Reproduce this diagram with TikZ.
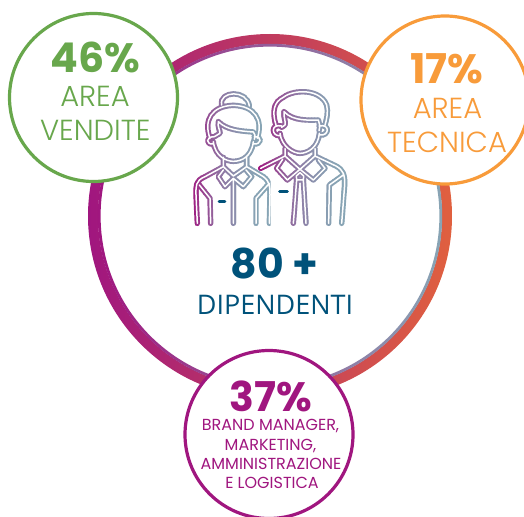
\documentclass[tikz,border=0pt]{standalone}
\usepackage{fontspec}
\setmainfont{Poppins}
\newfontfamily\poplight{Poppins Light}
\newfontfamily\opensans{Open Sans}
\definecolor{cgreen}{HTML}{68A74C}
\definecolor{corange}{HTML}{F89B3A}
\definecolor{cpurple}{HTML}{A0167F}
\definecolor{cnavy}{HTML}{00527A}
\definecolor{cgrey}{HTML}{88A5B5}
\definecolor{cred}{HTML}{E0603F}
\newcommand{\fsz}[1]{\fontsize{#1}{#1}\selectfont}
\newcommand{\womanlines}{%
  (155,105) .. controls (146,62) and (232,58) .. (238,108)
  (120,205) .. controls (100,150) and (125,108) .. (190,106) .. controls (255,108) and (280,150) .. (262,205)
  (145,155) .. controls (170,180) and (210,183) .. (250,186) .. controls (255,190) and (256,198) .. (253,208)
  (145,155) .. controls (142,170) and (150,180) .. (150,190) -- (133,200)
  (133,200) .. controls (105,200) and (108,225) .. (130,222)
  (253,200) .. controls (278,198) and (275,225) .. (250,222)
  (130,215) .. controls (135,260) and (170,274) .. (190,274) .. controls (215,274) and (245,260) .. (250,215)
  (160,262) -- (160,290) -- (190,318) -- (230,290) -- (230,262)
  (160,300) -- (145,320) -- (165,350) -- (190,325) -- (220,350) -- (245,320) -- (228,300)
  (160,290) -- (105,320) .. controls (75,332) and (78,350) .. (78,375) -- (82,460)
  (230,290) -- (280,320) .. controls (300,335) and (300,350) .. (300,375) -- (298,460)
  (88,345) -- (120,385) -- (122,460)
  (298,340) -- (258,385) -- (258,460)
  (190,325) -- (190,460)
}
\newcommand{\manlines}{%
  (318,165) .. controls (305,125) and (312,95) .. (340,82) .. controls (370,58) and (450,55) .. (470,105) .. controls (475,125) and (470,150) .. (465,165)
  (342,125) .. controls (370,155) and (420,150) .. (445,150) .. controls (450,160) and (450,170) .. (447,182)
  (342,125) .. controls (340,140) and (348,155) .. (345,165) -- (335,172)
  (335,168) .. controls (300,160) and (305,200) .. (330,197)
  (447,168) .. controls (482,160) and (478,200) .. (448,195)
  (330,190) .. controls (335,230) and (370,250) .. (390,250) .. controls (415,250) and (445,230) .. (448,190)
  (345,236) -- (345,258) -- (390,298) -- (435,258) -- (435,236)
  (338,268) -- (320,295) -- (352,330) -- (390,298) -- (430,330) -- (465,295) -- (445,270)
  (345,258) -- (272,295)
  (435,258) -- (498,288) .. controls (520,300) and (525,315) .. (524,345) -- (515,460)
  (520,315) -- (478,345) -- (476,460)
  (380,330) -- (379,318) -- (390,308) -- (401,318) -- (400,330) -- cycle
  (380,330) -- (370,460)
  (400,330) -- (408,460)
}
\tikzset{
  bubble/.style={circle,draw,fill=white,line width=3.2pt,inner sep=0pt,minimum size=168pt},
  pct/.style={anchor=base,inner sep=0pt,text depth=0pt,font=\bfseries\fsz{41}},
  lbl/.style={anchor=base,inner sep=0pt,font=\poplight\fsz{29}},
  small/.style={anchor=base,inner sep=0pt,text height=11pt,text depth=0pt,font=\fsz{16},text=cpurple},
  tagdash/.style={line width=2.8pt,line cap=round,cnavy},
  iconline/.style={line width=5.4pt,line cap=round,line join=round},
  iconcore/.style={white,line width=1.5pt,line cap=round,line join=round},
}
\begin{document}
\begin{tikzpicture}[x=1pt,y=-1pt]
  \useasboundingbox (0,0) rectangle (524,516);
  \clip (0,0) rectangle (524,516);
  % ring
  \path[left color=cpurple,right color=cred,even odd rule] (270,216) circle[radius=182pt] (270,216) circle[radius=172pt];
  \path[left color=cpurple,right color=cgrey,even odd rule] (270,216) circle[radius=172.2pt] (270,216) circle[radius=169.4pt];
  % bubbles
  \node[bubble,draw=cgreen] (green) at (93.5,97.5) {};
  \node[bubble,draw=corange] (orange) at (445,100) {};
  \node[bubble,draw=cpurple] (purple) at (269,434.5) {};
  % people: gradient stroke built from vertical slices
  \begin{scope}[shift={(170,70)},x=0.33333pt,y=-0.33333pt]
    \foreach \s in {0,...,29}{
      \pgfmathtruncatemacro{\p}{100*(1-\s/29)^2.2}
      \begin{scope}
        \clip (60+8*\s,40) rectangle (70+8*\s,480);
        \draw[iconline,color=cpurple!\p!cgrey] \womanlines;
      \end{scope}
    }
    \foreach \s in {0,...,31}{
      \pgfmathtruncatemacro{\p}{100*(1-\s/31)^2.2}
      \begin{scope}
        \clip (262+9*\s,40) rectangle (273+9*\s,480);
        \draw[iconline,color=cpurple!\p!cgrey] \manlines;
      \end{scope}
    }
    \draw[iconcore] \womanlines;
    \draw[iconcore] \manlines;
  \end{scope}
  \coordinate (d1a) at (219,201.3); \coordinate (d1b) at (225,201.3);
  \coordinate (d2a) at (279.5,191.3); \coordinate (d2b) at (287.5,191.3);
  \draw[tagdash] (d1a) -- (d1b);
  \draw[tagdash] (d2a) -- (d2b);
  % texts
  \node[pct,text=cgreen] (t46) at (95.3,72.7) {46\%};
  \node[lbl,text=cgreen] (t46a) at (95,106.7) {AREA};
  \node[lbl,text=cgreen] (t46b) at (95.3,140.7) {VENDITE};
  \node[pct,text=corange] (t17) at (447,84) {17\%};
  \node[lbl,text=corange] (t17a) at (447.5,118) {AREA};
  \node[lbl,text=corange] (t17b) at (447,152.7) {TECNICA};
  \node[pct,text=cnavy] (t80) at (274.5,278) {80 +};
  \node[anchor=base,inner sep=0pt,text=cnavy,font=\opensans\fsz{27}] (tdip) at (275,314) {DIPENDENTI};
  \node[pct,text=cpurple] (t37) at (270.5,411.7) {37\%};
  \node[small] (s1) at (270.5,430.7) {BRAND MANAGER,};
  \node[small] (s2) at (270.5,450) {MARKETING,};
  \node[small] (s3) at (271,469.3) {AMMINISTRAZIONE};
  \node[small] (s4) at (272,488.3) {E LOGISTICA};
\end{tikzpicture}
\end{document}
